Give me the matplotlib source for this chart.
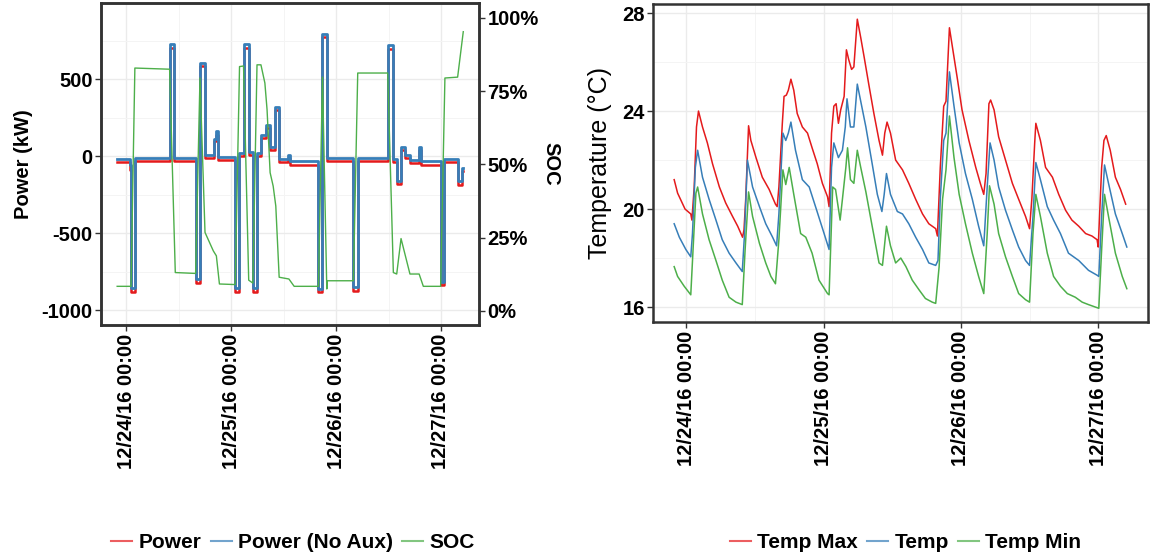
import numpy as np
import matplotlib
matplotlib.use('Agg')
import matplotlib.pyplot as plt
from matplotlib.ticker import MultipleLocator
from matplotlib.lines import Line2D

plt.rcParams['font.family'] = ['Liberation Sans', 'DejaVu Sans']
plt.rcParams['font.weight'] = 'bold'
plt.rcParams['axes.unicode_minus'] = False

# hours after 12/24/16 00:00
day_ticks = [0, 24, 48, 72]
day_labels = ['12/24/16 00:00', '12/25/16 00:00', '12/26/16 00:00', '12/27/16 00:00']

# power steps (start hour of each level)
power_h = [-2.1, 0.9, 1.07, 2.06, 9.9, 10.97, 15.85, 16.9, 18.06, 19.96,
           20.57, 20.88, 24.91, 25.83, 26.82, 27.96, 28.95, 29.87, 30.78, 32.0,
           32.91, 34.06, 34.97, 37.1, 37.5, 43.96, 44.88, 45.87, 51.96, 52.95,
           59.81, 60.95, 61.87, 62.86, 63.77, 64.91, 66.97, 67.43, 71.92, 72.69,
           75.81, 76.72, 77.1]
power_noaux = [-20, -60, -855, -15, 730, -15, -800, 605, 10, 110,
               160, -5, -855, 20, 725, 25, -855, 20, 135, 200,
               60, 320, -20, 10, -35, -860, 795, -15, -850, -15,
               720, -20, -160, 60, 10, -25, 60, -35, -815, -20,
               -165, -75, -75]
power = [-40, -90, -880, -35, 705, -35, -825, 585, -10, 95,
         140, -25, -880, 0, 705, 5, -880, 0, 115, 180,
         40, 300, -40, -10, -55, -885, 770, -35, -875, -35,
         695, -40, -180, 40, -10, -45, 40, -55, -840, -40,
         -185, -95, -95]

soc_h = [-2.1, 0.95, 1.07, 1.95, 9.9, 11.2, 15.85, 16.85, 18.0, 19.9,
         20.6, 21.3, 24.91, 25.9, 26.82, 28.0, 28.95, 29.9, 30.8, 31.7,
         32.2, 32.9, 33.6, 34.2, 34.97, 37.2, 38.4, 43.96, 44.88, 45.87,
         46.0, 51.96, 52.95, 59.81, 61.1, 61.87, 62.86, 64.9, 67.0, 67.96,
         71.92, 72.9, 75.81, 77.1]
soc = [8.4, 8.4, 8.4, 82.9, 82.5, 13.1, 12.8, 79.5, 26.8, 20.5,
       18.8, 9.2, 9.0, 83.4, 83.6, 10.5, 9.5, 84.0, 84.0, 77.8,
       68.7, 47.2, 42.6, 35.8, 11.5, 10.9, 8.4, 8.4, 79.8, 7.5,
       10.3, 10.3, 81.2, 81.2, 13.1, 12.6, 24.7, 12.6, 12.6, 8.4,
       8.4, 79.5, 79.8, 95.3]

tmax_h = [-2.1, -1.5, -0.9, -0.2, 0.8, 1.0, 1.4, 1.8, 2.15, 2.85,
          3.7, 4.6, 5.8, 6.9, 8.1, 9.0, 9.85, 10.1, 10.4, 10.9,
          11.3, 12.2, 13.3, 14.5, 15.6, 15.9, 16.2, 16.8, 17.1, 17.5,
          17.85, 18.3, 18.8, 19.4, 20.3, 21.2, 22.0, 22.9, 23.8, 24.7,
          24.97, 25.4, 25.8, 26.2, 26.6, 27.0, 27.6, 28.0, 28.4, 28.9,
          29.3, 29.9, 30.5, 31.1, 31.9, 32.8, 33.7, 34.3, 34.7, 35.1,
          35.7, 36.6, 37.8, 38.9, 40.1, 41.3, 42.4, 43.6, 43.9, 44.4,
          45.0, 45.4, 46.0, 46.6, 47.4, 48.2, 49.4, 50.6, 51.4, 52.0,
          52.4, 52.9, 53.2, 53.8, 54.6, 55.8, 57.0, 58.1, 59.3, 60.0,
          60.4, 60.9, 61.1, 61.9, 62.8, 64.0, 65.1, 66.3, 67.4, 68.6,
          69.8, 70.9, 71.8, 72.0, 72.6, 73.0, 73.4, 74.1, 75.0, 75.9,
          76.8]
tmax = [21.2, 20.65, 20.35, 20.0, 19.8, 19.55, 20.9, 23.35, 24.0, 23.35,
        22.7, 21.85, 20.9, 20.25, 19.7, 19.3, 18.85, 19.15, 20.4, 23.4,
        22.8, 22.1, 21.3, 20.8, 20.2, 20.1, 20.9, 23.5, 24.6, 24.65,
        24.85, 25.3, 24.85, 23.9, 23.35, 23.1, 22.5, 21.85, 21.05, 20.5,
        20.1, 23.1, 24.2, 24.3, 23.5, 24.05, 24.6, 26.5, 26.1, 25.7,
        25.8, 27.75, 27.0, 26.2, 25.1, 23.9, 22.8, 22.2, 23.1, 23.55,
        23.1, 22.0, 21.6, 21.05, 20.4, 19.8, 19.4, 19.2, 18.9, 21.7,
        24.2, 24.4, 27.4, 26.5, 25.3, 24.05, 22.8, 21.7, 21.05, 20.6,
        21.45, 24.3, 24.45, 24.05, 22.95, 22.0, 21.05, 20.4, 19.7, 19.2,
        20.4, 22.7, 23.5, 22.8, 21.7, 21.3, 20.6, 19.95, 19.55, 19.3,
        19.0, 18.9, 18.75, 18.45, 21.7, 22.8, 23.0, 22.4, 21.3, 20.8,
        20.2]

temp_h = [-2.1, -1.2, -0.06, 0.8, 1.1, 1.6, 2.0, 2.85, 4.0, 5.2,
          6.3, 7.5, 8.7, 9.8, 10.2, 10.7, 11.6, 12.8, 13.9, 15.1,
          15.8, 16.2, 16.9, 17.4, 17.85, 18.3, 19.1, 20.3, 21.5, 22.6,
          24.1, 24.97, 25.4, 25.8, 26.6, 27.3, 27.8, 28.1, 28.7, 29.3,
          29.9, 30.8, 31.4, 32.5, 33.4, 34.2, 34.6, 35.0, 35.7, 36.9,
          37.8, 38.9, 40.1, 41.3, 42.4, 43.6, 44.0, 44.4, 45.0, 45.4,
          46.0, 46.8, 47.7, 48.8, 50.0, 51.1, 52.0, 52.6, 53.1, 53.8,
          54.6, 55.8, 57.0, 58.1, 59.3, 60.0, 60.6, 61.1, 61.9, 63.1,
          64.2, 65.4, 66.8, 68.6, 70.3, 71.8, 72.1, 72.6, 73.1, 73.8,
          75.0, 76.2, 77.0]
temp = [19.4, 18.85, 18.35, 18.05, 19.0, 21.7, 22.4, 21.3, 20.4, 19.55,
        18.75, 18.2, 17.8, 17.45, 19.0, 22.0, 20.9, 20.1, 19.4, 18.85,
        18.5, 19.8, 23.1, 22.8, 23.1, 23.55, 22.4, 21.2, 20.9, 20.1,
        19.0, 18.35, 21.7, 22.7, 22.1, 22.4, 23.35, 24.5, 23.35, 23.35,
        25.1, 24.05, 23.35, 21.85, 20.6, 19.9, 20.6, 21.45, 20.6, 19.9,
        19.8, 19.4, 18.85, 18.35, 17.8, 17.7, 17.9, 20.4, 22.8, 23.1,
        25.6, 24.2, 22.7, 21.45, 20.4, 19.3, 18.5, 20.9, 22.7, 22.0,
        20.9, 19.95, 19.15, 18.45, 17.9, 17.7, 19.7, 21.9, 21.2, 20.1,
        19.55, 19.0, 18.2, 17.9, 17.5, 17.3, 17.25, 19.7, 21.8, 21.05,
        19.8, 19.0, 18.45]

tmin_h = [-2.1, -1.5, -0.35, 0.8, 1.2, 1.7, 2.0, 2.85, 4.0, 5.2,
          6.3, 7.5, 8.7, 9.8, 10.3, 10.9, 11.6, 12.8, 13.9, 14.8,
          15.6, 16.2, 16.9, 17.4, 18.0, 18.8, 20.0, 20.9, 22.0, 23.2,
          24.7, 24.97, 25.6, 26.1, 26.9, 27.3, 27.9, 28.2, 28.7, 29.3,
          29.9, 30.5, 31.4, 32.5, 33.7, 34.3, 35.0, 35.7, 36.6, 37.5,
          38.4, 39.5, 40.7, 41.8, 43.0, 43.6, 44.2, 44.8, 45.4, 46.0,
          46.8, 47.7, 48.8, 50.0, 51.1, 52.0, 52.6, 53.0, 53.8, 54.6,
          55.8, 57.0, 58.1, 59.3, 60.0, 60.6, 61.1, 61.9, 63.1, 64.2,
          65.4, 66.6, 68.0, 69.2, 70.3, 72.1, 72.6, 73.1, 73.8, 75.0,
          76.2, 77.0]
tmin = [17.65, 17.25, 16.85, 16.5, 18.35, 20.65, 20.9, 19.8, 18.75, 17.9,
        17.1, 16.4, 16.2, 16.1, 18.35, 20.7, 19.7, 18.6, 17.8, 17.25,
        16.95, 18.75, 21.6, 21.0, 21.7, 20.6, 19.0, 18.85, 18.2, 17.1,
        16.55, 16.5, 20.9, 20.8, 19.55, 20.4, 21.7, 22.5, 21.2, 21.05,
        22.4, 21.7, 20.7, 19.3, 17.8, 17.7, 19.3, 18.5, 17.8, 18.0,
        17.65, 17.1, 16.7, 16.35, 16.2, 16.15, 17.65, 20.4, 21.6, 23.8,
        22.1, 20.6, 19.4, 18.2, 17.25, 16.55, 19.0, 20.95, 20.2, 19.0,
        18.05, 17.25, 16.55, 16.3, 16.2, 19.0, 20.6, 19.7, 18.2, 17.25,
        16.85, 16.55, 16.4, 16.2, 16.1, 15.95, 18.35, 20.6, 19.7, 18.2,
        17.25, 16.75]

RED, BLUE, GREEN = '#E41A1C', '#377EB8', '#4DAF4A'
DARK = '#333333'


def style(ax, xminor, yminor):
    ax.set_axisbelow(True)
    ax.xaxis.set_minor_locator(MultipleLocator(xminor))
    ax.yaxis.set_minor_locator(MultipleLocator(yminor))
    ax.grid(which='major', color='#EBEBEB', lw=1.0)
    ax.grid(which='minor', color='#F4F4F4', lw=0.7)
    ax.tick_params(which='minor', length=0)
    ax.tick_params(which='major', length=4, width=1, color=DARK,
                   labelsize=14.5, pad=2)
    for s in ax.spines.values():
        s.set_color(DARK)
        s.set_linewidth(1.8)
    ax.set_xticks(day_ticks)
    ax.set_xticklabels(day_labels, rotation=90, va='top', ha='center')
    ax.set_xlim(-5.8, 80.7)


fig = plt.figure(figsize=(11.51, 5.58), dpi=100)
ax1 = fig.add_axes([101 / 1151, 1 - 325 / 558, 378 / 1151, 322 / 558])
ax2 = fig.add_axes([653 / 1151, 1 - 322 / 558, 495 / 1151, 318 / 558])

# left: power + SOC
style(ax1, 12, 250)
ax1.step(power_h, power, where='post', color=RED, lw=1.8)
ax1.step(power_h, power_noaux, where='post', color=BLUE, lw=2.0)
ax1.set_ylim(-1097, 994)
ax1.set_yticks([-1000, -500, 0, 500])
ax1.set_ylabel('Power (kW)', fontsize=14.5, fontweight='bold', labelpad=6)

axs = ax1.twinx()
axs.plot(soc_h, soc, color=GREEN, lw=1.0)
axs.set_ylim(-4.8, 105.1)
axs.set_yticks([0, 25, 50, 75, 100])
axs.set_yticklabels(['0%', '25%', '50%', '75%', '100%'])
axs.tick_params(length=4, width=1, color=DARK, labelsize=14.5, pad=2)
for s in axs.spines.values():
    s.set_color(DARK)
    s.set_linewidth(1.8)
axs.set_ylabel('SOC', fontsize=14.5, fontweight='bold', rotation=270, labelpad=16)

# right: temperatures
style(ax2, 12, 2)
ax2.plot(tmax_h, tmax, color=RED, lw=1.1)
ax2.plot(temp_h, temp, color=BLUE, lw=1.1)
ax2.plot(tmin_h, tmin, color=GREEN, lw=1.1)
ax2.set_ylim(15.39, 28.37)
ax2.set_yticks([16, 20, 24, 28])
ax2.set_ylabel('Temperature (°C)', fontsize=18, fontweight='normal', labelpad=7)

leg_kw = dict(loc='center', ncol=3, frameon=False, handlelength=1.0,
              handletextpad=0.3, columnspacing=0.45, fontsize=15)
h1 = [Line2D([], [], color=c, lw=1.5, alpha=0.7) for c in (RED, BLUE, GREEN)]
fig.legend(h1, ['Power', 'Power (No Aux)', 'SOC'],
           bbox_to_anchor=(0.2546, 0.027), **leg_kw)
h2 = [Line2D([], [], color=c, lw=1.5, alpha=0.7) for c in (RED, BLUE, GREEN)]
fig.legend(h2, ['Temp Max', 'Temp', 'Temp Min'],
           bbox_to_anchor=(0.787, 0.027), **leg_kw)

fig.savefig('out.png', dpi=100)
